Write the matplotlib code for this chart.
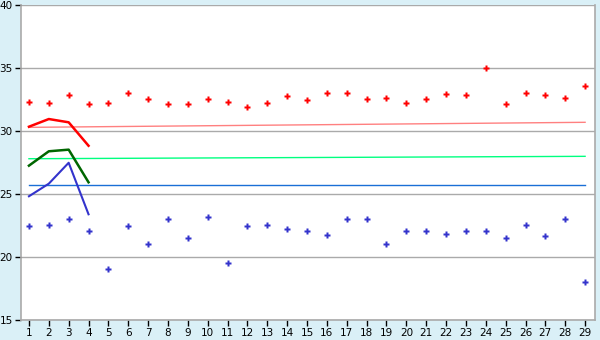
import numpy as np
import matplotlib

matplotlib.use('Agg')
import matplotlib.pyplot as plt

# data
days = np.arange(1, 30)
upper = [32.28, 32.2, 32.83, 32.12, 32.2, 32.99, 32.52, 32.12, 32.12, 32.52,
         32.28, 31.88, 32.2, 32.75, 32.44, 32.99, 32.99, 32.52, 32.6, 32.2,
         32.52, 32.91, 32.83, 34.98, 32.12, 32.99, 32.83, 32.6, 33.55]
lower = [22.44, 22.51, 22.99, 22.04, 19.02, 22.44, 21.01, 22.99, 21.48, 23.15,
         19.5, 22.44, 22.51, 22.2, 22.04, 21.72, 22.99, 22.99, 21.01, 22.04,
         22.04, 21.8, 22.04, 22.04, 21.48, 22.51, 21.64, 22.99, 17.99]

first_days = [1, 2, 3, 4]
red_line = [30.34, 30.95, 30.69, 28.83]
green_line = [27.25, 28.39, 28.52, 25.93]
blue_line = [24.82, 25.82, 27.48, 23.39]

trend_x = [1, 29]
trend_pink = [30.29, 30.69]
trend_green = [27.8, 27.99]
trend_blue = [25.69, 25.69]

y_ticks = [15, 20, 25, 30, 35, 40]

fig = plt.figure(figsize=(6, 3.4), dpi=100, facecolor='#daf0f7')
ax = fig.add_axes([0.035, 0.0588, 0.9567, 0.9265])
ax.set_facecolor('white')

for v in y_ticks:
    ax.axhline(v, color='#aaaaaa', lw=1, zorder=1)

ax.plot(trend_x, trend_pink, color='#ff8080', lw=1.0, zorder=2)
ax.plot(trend_x, trend_green, color='#00ff80', lw=1.0, zorder=2)
ax.plot(trend_x, trend_blue, color='#1a6fd6', lw=1.0, zorder=2)

ax.plot(first_days, red_line, color='#ff0000', lw=1.8, zorder=3)
ax.plot(first_days, green_line, color='#006600', lw=1.8, zorder=3)
ax.plot(first_days, blue_line, color='#3333cc', lw=1.5, zorder=3)

# small thick-centred plus markers
ax.plot(days, upper, ls='none', marker='P', ms=5, color='#ff0000', mec='none', zorder=4)
ax.plot(days, lower, ls='none', marker='P', ms=5, color='#3333cc', mec='none', zorder=4)

ax.set_xlim(0.6, 29.5)
ax.set_ylim(15, 40)
ax.set_xticks(days)
ax.set_yticks(y_ticks)
ax.tick_params(axis='both', length=4, width=1, color='black', labelsize=7.5, pad=2)

ax.spines['top'].set_visible(False)
for side in ['left', 'right', 'bottom']:
    ax.spines[side].set_color('#aaaaaa')
    ax.spines[side].set_linewidth(1.2)

fig.savefig('out.png', dpi=100, facecolor=fig.get_facecolor())
